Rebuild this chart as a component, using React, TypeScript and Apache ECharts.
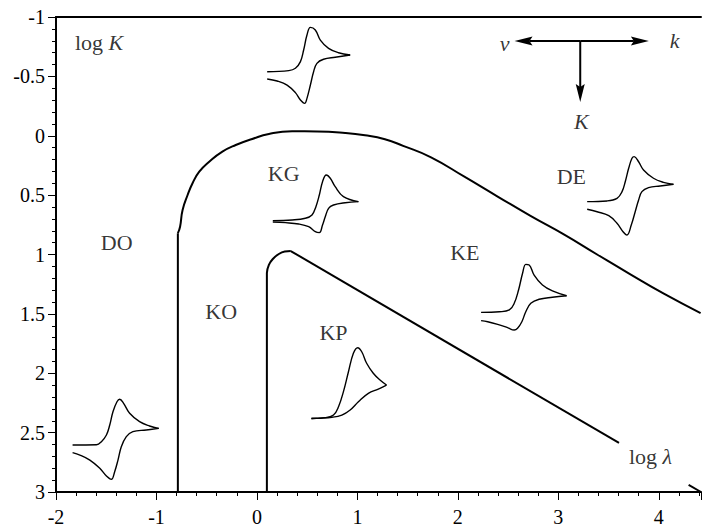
import React, { useEffect, useRef } from "react";
import * as echarts from "echarts";

// Axis ticks
const xTickValues = [-2, -1, 0, 1, 2, 3, 4];
const xMin = -2;
const xMax = 4.42;
const yMin = -1;
const yMax = 3;

// Boundary lines (log lambda, log K)
const outerVertical = [[-0.787, 3], [-0.787, 0.82]];
const outerCurve = [
  [-0.787, 0.82], [-0.765, 0.766], [-0.74, 0.625], [-0.69, 0.499], [-0.641, 0.4],
  [-0.574, 0.303], [-0.475, 0.219], [-0.344, 0.134], [-0.211, 0.078], [-0.047, 0.027],
  [0.119, -0.015], [0.35, -0.037], [0.6, -0.036], [0.878, -0.024], [1.076, -0.004],
  [1.274, 0.03], [1.455, 0.085], [1.733, 0.182], [2.069, 0.347], [2.396, 0.512],
  [2.723, 0.675], [3.059, 0.833], [3.386, 1.0], [3.713, 1.165], [4.05, 1.33], [4.416, 1.493],
];
const innerCurve = [
  [0.099, 3], [0.099, 1.156], [0.119, 1.088], [0.158, 1.038], [0.218, 0.996],
  [0.277, 0.975], [0.337, 0.971],
];
const innerLine = [[0.337, 0.971], [3.604, 2.587]];
const cornerStroke = [[4.297, 2.941], [4.42, 3.0]];

// Cyclic voltammogram icons: forward and reverse scans
const cvTopFwd = [
  [0.102, -0.539], [0.317, -0.548], [0.383, -0.568], [0.433, -0.624], [0.465, -0.722],
  [0.498, -0.848], [0.532, -0.913], [0.581, -0.891], [0.631, -0.806], [0.713, -0.736],
  [0.812, -0.699], [0.928, -0.68],
];
const cvTopRev = [
  [0.928, -0.68], [0.779, -0.661], [0.663, -0.644], [0.597, -0.61], [0.564, -0.539],
  [0.532, -0.427], [0.498, -0.315], [0.475, -0.273], [0.433, -0.301], [0.383, -0.363],
  [0.3, -0.427], [0.201, -0.461], [0.102, -0.478],
];
const cvKGFwd = [
  [0.158, 0.715], [0.35, 0.709], [0.482, 0.695], [0.548, 0.667], [0.587, 0.597],
  [0.621, 0.499], [0.653, 0.387], [0.69, 0.331], [0.73, 0.358], [0.779, 0.429],
  [0.861, 0.513], [1.01, 0.555],
];
const cvKGRev = [
  [1.01, 0.555], [0.878, 0.564], [0.762, 0.583], [0.713, 0.611], [0.68, 0.682],
  [0.653, 0.752], [0.621, 0.816], [0.581, 0.808], [0.515, 0.766], [0.416, 0.743],
  [0.284, 0.732], [0.158, 0.726],
];
const cvDEFwd = [
  [3.287, 0.555], [3.485, 0.549], [3.584, 0.527], [3.634, 0.471], [3.666, 0.387],
  [3.7, 0.274], [3.733, 0.19], [3.755, 0.176], [3.799, 0.219], [3.848, 0.288],
  [3.947, 0.358], [4.046, 0.392], [4.146, 0.409],
];
const cvDERev = [
  [4.146, 0.409], [4.013, 0.423], [3.898, 0.437], [3.832, 0.471], [3.799, 0.541],
  [3.765, 0.64], [3.726, 0.752], [3.683, 0.836], [3.644, 0.808], [3.584, 0.737],
  [3.502, 0.673], [3.386, 0.64], [3.287, 0.619],
];
const cvKEFwd = [
  [2.231, 1.487], [2.413, 1.482], [2.512, 1.467], [2.561, 1.411], [2.604, 1.299],
  [2.644, 1.158], [2.676, 1.083], [2.71, 1.088], [2.759, 1.173], [2.842, 1.257],
  [2.941, 1.307], [3.082, 1.347],
];
const cvKERev = [
  [3.082, 1.347], [2.941, 1.36], [2.809, 1.377], [2.726, 1.411], [2.676, 1.482],
  [2.637, 1.566], [2.594, 1.621], [2.561, 1.636], [2.495, 1.616], [2.396, 1.588],
  [2.297, 1.566], [2.231, 1.557],
];
const cvKPFwd = [
  [0.542, 2.379], [0.68, 2.374], [0.762, 2.352], [0.812, 2.282], [0.861, 2.155],
  [0.911, 1.987], [0.96, 1.832], [1.003, 1.785], [1.043, 1.819], [1.092, 1.916],
  [1.158, 2.0], [1.225, 2.057], [1.29, 2.099],
];
const cvKPRev = [
  [1.29, 2.099], [1.208, 2.133], [1.109, 2.169], [1.01, 2.24], [0.928, 2.309],
  [0.845, 2.352], [0.746, 2.371], [0.614, 2.379], [0.542, 2.383],
];
const cvDOFwd = [
  [-1.835, 2.604], [-1.597, 2.602], [-1.548, 2.576], [-1.498, 2.52], [-1.465, 2.436],
  [-1.433, 2.324], [-1.393, 2.24], [-1.366, 2.219], [-1.327, 2.253], [-1.267, 2.337],
  [-1.168, 2.408], [-1.069, 2.444], [-0.977, 2.464],
];
const cvDORev = [
  [-0.977, 2.464], [-1.102, 2.478], [-1.235, 2.492], [-1.3, 2.534], [-1.35, 2.619],
  [-1.383, 2.731], [-1.416, 2.829], [-1.449, 2.893], [-1.498, 2.865], [-1.564, 2.8],
  [-1.663, 2.731], [-1.762, 2.689], [-1.835, 2.669],
];

// Region labels
const regionNames = ["DO", "KO", "KP", "KG", "KE", "DE"];
const regionPos = [
  [-1.396, 0.895], [-0.356, 1.476], [0.762, 1.653], [0.267, 0.322], [2.069, 0.987], [3.129, 0.347],
];

// Axis titles and compass
const axisTitleText = ["{r|log }{i|K}", "{r|log }{i|λ}"];
const axisTitlePos = [[-1.812, -0.789], [3.703, 2.697]];
const compassLetters = ["v", "k", "K"];
const compassLetterPos = [[2.465, -0.773], [4.158, -0.806], [3.228, -0.124]];
// arrows: [fromX, fromY, tipX, tipY]
const compassArrows = [
  [3.218, -0.798, 2.564, -0.798],
  [3.218, -0.798, 3.901, -0.798],
  [3.218, -0.798, 3.218, -0.284],
];

export default function App() {
  const ref = useRef<HTMLDivElement>(null);
  useEffect(() => {
    const chart = echarts.init(ref.current!, null, { renderer: "svg" });
    const font = "'Liberation Serif', 'Times New Roman', serif";

    const line = (data: number[][], width: number, smooth: number | boolean) => ({
      type: "line",
      data,
      symbol: "none",
      smooth,
      silent: true,
      lineStyle: { color: "#000", width },
      z: 3,
    });

    const cvs = [
      cvTopFwd, cvTopRev, cvKGFwd, cvKGRev, cvDEFwd, cvDERev,
      cvKEFwd, cvKERev, cvKPFwd, cvKPRev, cvDOFwd, cvDORev,
    ];

    const option: any = {
      animation: false,
      backgroundColor: "#fff",
      grid: { left: 56, right: 0, top: 17, bottom: 38, containLabel: false },
      xAxis: [
        {
          type: "value",
          min: xMin,
          max: xMax,
          interval: 1,
          position: "bottom",
          axisLine: { show: true, onZero: false, lineStyle: { color: "#000", width: 2 } },
          axisTick: { show: true, inside: false, length: 8, lineStyle: { color: "#000", width: 1 } },
          minorTick: { show: true, splitNumber: 5, length: 4, lineStyle: { color: "#000", width: 1 } },
          splitLine: { show: false },
          axisLabel: {
            color: "#000",
            fontFamily: font,
            fontSize: 20,
            margin: 15,
            formatter: (v: number) => (xTickValues.indexOf(v) >= 0 ? String(v) : ""),
          },
        },
        {
          type: "value",
          min: xMin,
          max: xMax,
          position: "top",
          axisLine: { show: true, onZero: false, lineStyle: { color: "#000", width: 2 } },
          axisTick: { show: false },
          axisLabel: { show: false },
          splitLine: { show: false },
        },
      ],
      yAxis: {
        type: "value",
        inverse: true,
        min: yMin,
        max: yMax,
        interval: 0.5,
        axisLine: { show: true, onZero: false, lineStyle: { color: "#000", width: 2 } },
        axisTick: { show: true, inside: false, length: 8, lineStyle: { color: "#000", width: 1 } },
        minorTick: { show: true, splitNumber: 5, length: 4, lineStyle: { color: "#000", width: 1 } },
        splitLine: { show: false },
        axisLabel: { color: "#000", fontFamily: font, fontSize: 20, margin: 11 },
      },
      series: [
        line(outerVertical, 2, false),
        line(outerCurve, 2, 0.5),
        line(innerCurve, 2, 0.4),
        line(innerLine, 2, false),
        line(cornerStroke, 2, false),
        ...cvs.map((d) => line(d, 1.4, 0.4)),
        {
          type: "scatter",
          symbolSize: 0,
          silent: true,
          data: regionNames.map((n, i) => ({ name: n, value: regionPos[i] })),
          label: {
            show: true,
            position: "inside",
            formatter: (p: any) => p.name,
            color: "#000",
            fontFamily: font,
            fontSize: 22,
          },
          z: 5,
        },
        {
          type: "scatter",
          symbolSize: 0,
          silent: true,
          data: axisTitleText.map((t, i) => ({ name: t, value: axisTitlePos[i] })),
          label: {
            show: true,
            position: "right",
            distance: 0,
            formatter: (p: any) => p.name,
            rich: {
              r: { color: "#000", fontFamily: font, fontSize: 22 },
              i: { color: "#000", fontFamily: font, fontSize: 22, fontStyle: "italic" },
            },
          },
          z: 5,
        },
        {
          type: "scatter",
          symbolSize: 0,
          silent: true,
          data: compassLetters.map((t, i) => ({ name: t, value: compassLetterPos[i] })),
          label: {
            show: true,
            position: "inside",
            formatter: (p: any) => p.name,
            color: "#000",
            fontFamily: font,
            fontSize: 22,
            fontStyle: "italic",
          },
          z: 5,
        },
        {
          type: "custom",
          silent: true,
          data: compassArrows,
          renderItem: (params: any, api: any) => {
            const p0 = api.coord([api.value(0), api.value(1)]);
            const p1 = api.coord([api.value(2), api.value(3)]);
            const dx = p1[0] - p0[0];
            const dy = p1[1] - p0[1];
            const len = Math.sqrt(dx * dx + dy * dy) || 1;
            const ux = dx / len;
            const uy = dy / len;
            const head = 18;
            const half = 4.5;
            const bx = p1[0] - ux * head;
            const by = p1[1] - uy * head;
            const nx = -uy;
            const ny = ux;
            return {
              type: "group",
              children: [
                {
                  type: "line",
                  shape: { x1: p0[0], y1: p0[1], x2: bx + ux * 3, y2: by + uy * 3 },
                  style: { stroke: "#000", lineWidth: 2 },
                },
                {
                  type: "polygon",
                  shape: {
                    points: [
                      [p1[0], p1[1]],
                      [bx + nx * half, by + ny * half],
                      [bx + ux * 3, by + uy * 3],
                      [bx - nx * half, by - ny * half],
                    ],
                  },
                  style: { fill: "#000" },
                },
              ],
            };
          },
          z: 5,
        },
      ],
    };
    chart.setOption(option);
    return () => chart.dispose();
  }, []);
  return (
    <div
      ref={ref}
      style={{ position: "fixed", left: 0, top: 0, width: 704, height: 530, background: "#fff" }}
    />
  );
}
